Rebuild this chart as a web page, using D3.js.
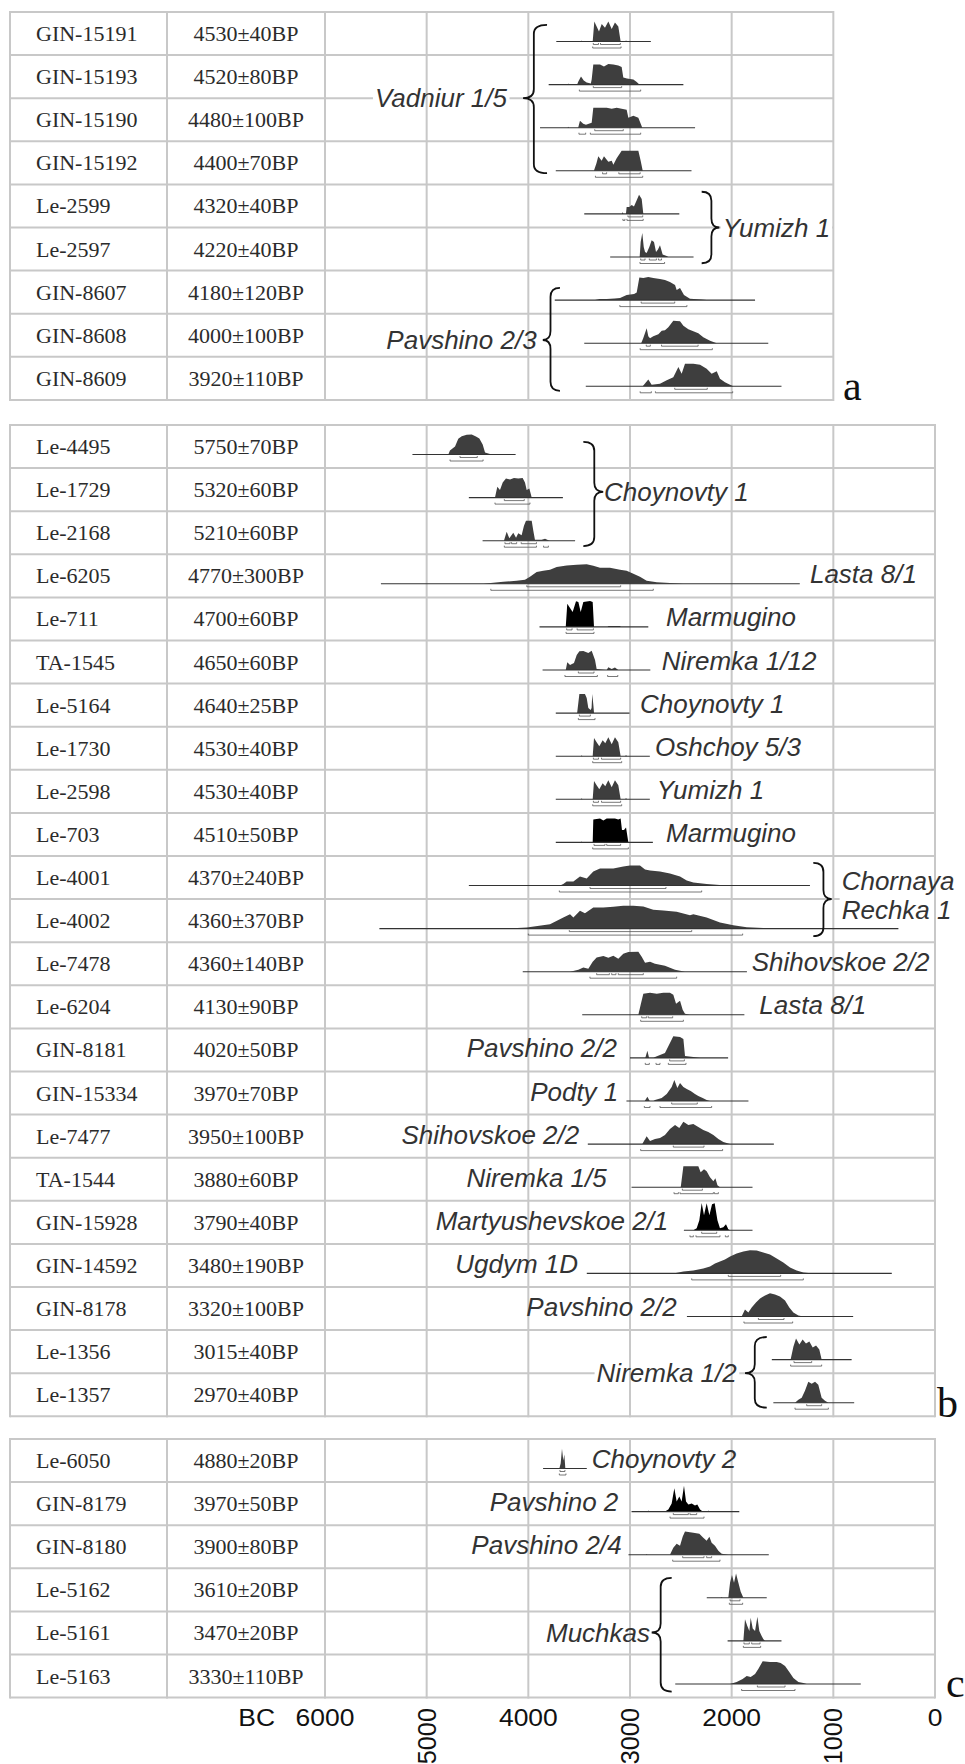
<!DOCTYPE html>
<html>
<head>
<meta charset="utf-8">
<script src="https://cdn.jsdelivr.net/npm/d3@7"></script>
<style>
body { margin: 0; background: #fff; }
svg { display: block; }
</style>
</head>
<body>
<svg width="965" height="1764"></svg>
<script>
// ---- data: lab codes, dates, calibrated distributions (year BC, relative probability) ----

// panel a
var codesA = ["GIN-15191","GIN-15193","GIN-15190","GIN-15192","Le-2599","Le-2597","GIN-8607","GIN-8608","GIN-8609"];
var datesA = ["4530±40BP","4520±80BP","4480±100BP","4400±70BP","4320±40BP","4220±40BP","4180±120BP","4000±100BP","3920±110BP"];
var spanA = [[3725,2795],[3800,2475],[3885,2360],[3730,2395],[3450,2515],[3195,2375],[3740,1770],[3450,1640],[3435,1510]];
var curvesA = [
  [[3485,0],[3478,4],[3471,0],[3367,0],[3351,80],[3328,60],[3305,40],[3278,70],[3246,55],[3213,80],[3180,50],[3148,76],[3115,60],[3092,0],[3046,0],[3039,5],[3032,0]],
  [[3614,0],[3607,4],[3600,0],[3520,0],[3508,12],[3482,32],[3455,16],[3426,8],[3385,4],[3377,20],[3361,80],[3295,80],[3256,72],[3213,82],[3164,80],[3115,76],[3082,70],[3066,28],[3030,24],[2967,20],[2934,10],[2908,0]],
  [[3614,0],[3607,4],[3600,0],[3510,0],[3492,28],[3460,16],[3433,12],[3377,20],[3361,80],[3295,80],[3229,80],[3180,76],[3131,80],[3082,76],[3033,72],[3016,40],[2967,48],[2918,40],[2879,0]],
  [[3355,0],[3330,30],[3312,58],[3279,40],[3256,58],[3213,36],[3180,40],[3164,24],[3131,50],[3082,80],[3033,80],[2918,80],[2895,40],[2875,0]],
  [[3079,0],[3072,8],[3065,0],[3040,0],[3033,28],[3007,28],[2983,36],[2961,30],[2934,55],[2911,77],[2885,60],[2869,0]],
  [[2905,0],[2895,60],[2879,96],[2865,40],[2852,20],[2836,16],[2810,40],[2787,67],[2764,60],[2744,20],[2725,30],[2705,47],[2679,10],[2639,4],[2623,0]],
  [[3344,0],[3300,4],[3229,4],[3150,6],[3098,8],[3033,20],[2960,24],[2934,30],[2908,90],[2869,88],[2820,92],[2771,88],[2705,84],[2656,80],[2607,72],[2557,60],[2541,40],[2508,48],[2469,20],[2410,5],[2295,2],[2246,0]],
  [[2890,0],[2870,20],[2836,60],[2820,28],[2803,20],[2771,28],[2721,36],[2688,50],[2656,52],[2623,64],[2574,90],[2508,88],[2475,70],[2426,56],[2377,48],[2328,40],[2279,24],[2213,10],[2147,0]],
  [[2875,0],[2820,27],[2787,6],[2705,10],[2639,24],[2574,36],[2524,77],[2492,50],[2459,90],[2377,90],[2311,86],[2246,70],[2197,50],[2147,60],[2115,30],[2066,16],[2016,6],[1984,0]]
];
var sig1A = [[[3361,3310],[3290,3095]],[[3361,3082]],[[3347,3066]],[[3270,3230],[3110,2900]],[[3020,2875]],[[2895,2852],[2810,2740],[2720,2690]],[[2890,2560]],[[2840,2800],[2690,2330]],[[2560,2240]]];
var sig2A = [[[3367,3088]],[[3498,2895]],[[3502,3436],[3390,2895]],[[3340,2875]],[[3070,3050],[3030,2870]],[[2902,2660]],[[3100,2440]],[[2900,2190]],[[2900,2790],[2750,1990]]];

// panel b
var codesB = ["Le-4495","Le-1729","Le-2168","Le-6205","Le-711","TA-1545","Le-5164","Le-1730","Le-2598","Le-703","Le-4001","Le-4002","Le-7478","Le-6204","GIN-8181","GIN-15334","Le-7477","TA-1544","GIN-15928","GIN-14592","GIN-8178","Le-1356","Le-1357"];
var datesB = ["5750±70BP","5320±60BP","5210±60BP","4770±300BP","4700±60BP","4650±60BP","4640±25BP","4530±40BP","4530±40BP","4510±50BP","4370±240BP","4360±370BP","4360±140BP","4130±90BP","4020±50BP","3970±70BP","3950±100BP","3880±60BP","3790±40BP","3480±190BP","3320±100BP","3015±40BP","2970±40BP"];
var spanB = [[5140,4125],[4585,3660],[4450,3540],[5450,1330],[3890,2820],[3860,2800],[3730,3005],[3730,2805],[3730,2805],[3730,2775],[4585,1230],[5465,360],[4055,1850],[3470,1875],[3000,2035],[3035,1835],[3415,1585],[2985,1795],[2470,1795],[3425,425],[2440,805],[1605,820],[1590,795]];
var oshchoy = [[3482,0],[3475,4],[3468,0],[3367,0],[3354,73],[3328,56],[3302,40],[3269,64],[3243,52],[3213,76],[3180,48],[3148,76],[3115,56],[3092,0],[3046,0],[3039,6],[3032,0]];
var curvesB = [
  [[4787,0],[4771,16],[4721,32],[4689,63],[4655,73],[4606,79],[4557,80],[4515,72],[4482,64],[4449,40],[4426,8],[4377,2],[4360,0]],
  [[4328,0],[4305,43],[4279,30],[4252,60],[4220,76],[4180,72],[4141,78],[4099,76],[4056,78],[4033,60],[4016,30],[3990,36],[3967,0]],
  [[4240,0],[4213,36],[4187,10],[4148,32],[4121,12],[4099,30],[4066,22],[4043,60],[4023,80],[3967,80],[3951,40],[3935,4],[3869,4],[3836,8],[3803,2],[3787,0]],
  [[4443,0],[4345,4],[4246,8],[4115,12],[4033,16],[3984,28],[3918,47],[3853,52],[3787,56],[3721,67],[3623,73],[3524,76],[3426,78],[3361,72],[3295,64],[3197,64],[3098,56],[3033,52],[2967,40],[2902,28],[2836,12],[2737,6],[2607,3],[2475,0]],
  [[3632,0],[3617,93],[3590,76],[3564,60],[3531,103],[3508,100],[3485,60],[3459,100],[3393,104],[3367,100],[3354,0],[3220,0],[3213,3],[3098,3],[3090,0]],
  [[3632,0],[3617,31],[3590,20],[3551,28],[3524,60],[3498,75],[3459,76],[3410,68],[3377,77],[3344,40],[3328,4],[3230,0],[3213,11],[3180,4],[3148,10],[3115,0]],
  [[3520,0],[3498,76],[3443,76],[3426,60],[3410,20],[3387,12],[3378,20],[3371,76],[3360,30],[3354,0]],
  oshchoy,
  oshchoy,
  [[3482,0],[3475,4],[3468,0],[3367,0],[3361,92],[3295,96],[3262,88],[3229,96],[3148,96],[3115,92],[3092,96],[3079,50],[3059,50],[3039,60],[3016,0]],
  [[3689,0],[3656,6],[3623,16],[3557,16],[3492,36],[3426,28],[3361,56],[3295,68],[3164,68],[3066,76],[3000,80],[2902,80],[2852,64],[2803,60],[2705,56],[2607,48],[2508,36],[2442,20],[2377,12],[2246,6],[2115,2],[2049,0]],
  [[4246,0],[4016,4],[3787,17],[3656,44],[3590,57],[3557,44],[3492,71],[3443,61],[3361,84],[3262,84],[3164,87],[3066,91],[2967,91],[2869,88],[2771,75],[2672,72],[2541,67],[2410,53],[2377,57],[2246,44],[2115,24],[1984,13],[1852,5],[1689,2],[1590,0]],
  [[3590,0],[3508,8],[3459,17],[3410,12],[3367,40],[3328,57],[3262,63],[3213,56],[3164,64],[3115,52],[3066,72],[3016,79],[2918,80],[2885,60],[2852,36],[2803,40],[2754,32],[2705,28],[2656,24],[2607,16],[2557,8],[2508,4],[2459,0]],
  [[2918,0],[2895,40],[2869,84],[2803,88],[2737,84],[2672,88],[2607,88],[2574,80],[2547,44],[2508,56],[2482,20],[2459,4],[2410,0]],
  [[2850,0],[2829,29],[2812,0],[2770,0],[2754,4],[2705,12],[2656,20],[2623,47],[2574,87],[2508,84],[2475,76],[2459,8],[2377,4],[2311,0]],
  [[2855,0],[2829,17],[2806,0],[2770,0],[2754,4],[2688,12],[2639,28],[2590,56],[2564,84],[2534,52],[2508,72],[2475,56],[2442,48],[2403,40],[2361,28],[2328,20],[2285,12],[2246,4],[2213,0]],
  [[2879,0],[2836,31],[2803,12],[2754,20],[2705,24],[2656,36],[2607,60],[2557,76],[2515,64],[2475,89],[2426,76],[2377,80],[2328,68],[2279,56],[2230,48],[2180,36],[2131,20],[2082,8],[2033,2],[2016,0]],
  [[2501,0],[2475,84],[2410,84],[2328,84],[2305,60],[2272,72],[2246,64],[2213,40],[2180,24],[2160,36],[2140,8],[2115,0]],
  [[2377,0],[2344,8],[2318,40],[2295,109],[2272,60],[2246,108],[2219,60],[2193,104],[2167,108],[2140,40],[2115,8],[2082,12],[2056,24],[2033,4],[2016,0]],
  [[2574,0],[2475,8],[2377,12],[2279,20],[2213,28],[2164,40],[2115,48],[2066,56],[2016,68],[1951,80],[1885,88],[1820,93],[1754,92],[1689,84],[1623,76],[1557,60],[1492,44],[1426,24],[1361,12],[1295,4],[1197,0]],
  [[1902,0],[1869,28],[1836,16],[1803,36],[1761,56],[1721,72],[1672,84],[1623,93],[1574,88],[1525,80],[1475,64],[1433,36],[1393,16],[1344,4],[1295,0]],
  [[1420,0],[1393,51],[1367,84],[1334,60],[1302,80],[1269,64],[1236,72],[1203,48],[1170,56],[1138,40],[1115,0]],
  [[1377,0],[1344,12],[1311,20],[1279,48],[1246,84],[1213,76],[1180,84],[1148,72],[1115,20],[1082,8],[1049,0]]
];
var sig1B = [[[4672,4502]],[[4236,4040]],[[4230,4180],[4165,4115],[4070,3920]],[[4015,3092]],[[3623,3570],[3520,3360]],[[3508,3354]],[[3498,3390]],[[3360,3310],[3280,3092]],[[3360,3310],[3280,3092]],[[3354,3246],[3229,3092]],[[3393,2646]],[[3597,2393]],[[3328,3203],[3180,3138],[3115,2869]],[[2885,2836],[2820,2580]],[[2610,2465]],[[2590,2338]],[[2574,2272]],[[2485,2288]],[[2295,2147]],[[2033,1518]],[[1737,1485]],[[1387,1213]],[[1262,1115]]];
var sig2B = [[[4770,4445]],[[4328,3984]],[[4236,3920],[3850,3803]],[[4369,2771]],[[3629,3354]],[[3640,3321],[3220,3120]],[[3508,3344]],[[3367,3082]],[[3367,3082]],[[3367,3016]],[[3695,2295]],[[4000,1892]],[[3394,2541]],[[2895,2475]],[[2850,2810],[2744,2705],[2623,2449]],[[2859,2803],[2705,2197]],[[2895,2089]],[[2567,2524],[2508,2180],[2170,2131]],[[2410,2377],[2351,2115],[2062,2033]],[[2393,1295]],[[1879,1400]],[[1420,1115]],[[1377,1049]]];

// panel c
var codesC = ["Le-6050","GIN-8179","GIN-8180","Le-5162","Le-5161","Le-5163"];
var datesC = ["4880±20BP","3970±50BP","3900±80BP","3610±20BP","3470±20BP","3330±110BP"];
var spanC = [[3855,3425],[2985,1925],[3015,1635],[2245,1655],[2040,1510],[2555,730]];
var curvesC = [
  [[3695,0],[3682,20],[3669,79],[3656,32],[3646,56],[3636,0]],
  [[2827,0],[2820,4],[2813,0],[2656,0],[2623,8],[2590,32],[2564,93],[2541,40],[2515,60],[2492,40],[2469,103],[2449,40],[2426,28],[2393,32],[2361,24],[2338,28],[2311,8],[2285,0],[2237,0],[2230,4],[2223,0]],
  [[2843,0],[2836,3],[2829,0],[2607,0],[2574,28],[2541,44],[2508,36],[2482,72],[2459,93],[2377,88],[2318,84],[2279,68],[2246,56],[2219,72],[2197,48],[2164,36],[2131,16],[2098,4],[2033,0]],
  [[2105,0],[2098,3],[2091,0],[2033,0],[2016,60],[1997,91],[1977,60],[1957,97],[1934,60],[1911,24],[1885,0]],
  [[1885,0],[1869,87],[1846,60],[1826,40],[1813,93],[1793,50],[1770,40],[1747,97],[1728,40],[1705,20],[1689,8],[1672,0]],
  [[2016,0],[1951,8],[1892,20],[1852,32],[1813,28],[1770,40],[1738,60],[1695,91],[1623,88],[1557,88],[1518,84],[1475,72],[1433,48],[1393,24],[1344,8],[1295,4],[1262,0]]
];
var sig1C = [[[3689,3640]],[[2574,2426],[2410,2344]],[[2482,2272],[2246,2197]],[[2016,1918]],[[1879,1826],[1803,1721]],[[1747,1475]]];
var sig2C = [[[3695,3630]],[[2606,2272]],[[2580,2115]],[[2023,1892]],[[1885,1715]],[[1902,1377]]];

// rows drawn in black
var blackA = [];
var blackB = [4, 9, 18];
var blackC = [1];

// axis
var tickYears = [6000, 5000, 4000, 3000, 2000, 1000, 0];
var uprightTicks = [5000, 3000, 1000];

// site labels: [row, text, year, anchor]
var sitesB = [[3,"Lasta 8/1",1230,"start"],[4,"Marmugino",2646,"start"],[5,"Niremka 1/12",2688,"start"],[6,"Choynovty 1",2902,"start"],
  [7,"Oshchoy 5/3",2754,"start"],[8,"Yumizh 1",2737,"start"],[9,"Marmugino",2646,"start"],[12,"Shihovskoe 2/2",1803,"start"],
  [13,"Lasta 8/1",1728,"start"],[14,"Pavshino 2/2",3128,"end"],[15,"Podty 1",3115,"end"],[16,"Shihovskoe 2/2",3499,"end"],
  [17,"Niremka 1/5",3229,"end"],[18,"Martyushevskoe 2/1",2623,"end"],[19,"Ugdym 1D",3511,"end"],[20,"Pavshino 2/2",2541,"end"]];
var sitesC = [[0,"Choynovty 2",3377,"start"],[1,"Pavshino 2",3115,"end"],[2,"Pavshino 2/4",3082,"end"]];

// braced groups (row units inside the panel)
var groups = [
  {panel:0, from:0.3,  tip:2.0,  to:3.74,  tipYr:4052, endYr:3816, labelYr:4210, anchor:"end",   text:["Vadniur 1/5"]},
  {panel:0, from:4.17, tip:5.0,  to:5.83,  tipYr:2121, endYr:2295, labelYr:2088, anchor:"start", text:["Yumizh 1"]},
  {panel:0, from:6.4,  tip:7.61, to:8.79,  tipYr:3858, endYr:3689, labelYr:3918, anchor:"end",   text:["Pavshino 2/3"]},
  {panel:1, from:0.39, tip:1.55, to:2.81,  tipYr:3263, endYr:3459, labelYr:3255, anchor:"start", text:["Choynovty 1"]},
  {panel:1, from:10.16,tip:11.0, to:11.86, tipYr:1016, endYr:1197, labelYr:918,  anchor:"start", text:["Chornaya","Rechka 1"]},
  {panel:1, from:21.16,tip:22.0, to:22.8,  tipYr:1869, endYr:1655, labelYr:1950, anchor:"end",   text:["Niremka 1/2"]},
  {panel:2, from:3.22, tip:4.49, to:5.86,  tipYr:2787, endYr:2590, labelYr:2803, anchor:"end",   text:["Muchkas"]}
];

// ---- drawing ----
var svg = d3.select("svg");
var x = d3.scaleLinear().domain([6000, 0]).range([325, 935]);
var h = d3.scaleLinear().domain([0, 100]).range([0, 25]);
var rowH = 43.1;
var serif = "'Liberation Serif','Times New Roman',serif";
var sans = "'Liberation Sans',Arial,sans-serif";
var gridCol = "#c8c8c8";
var labelSize = 26;

var panels = [
  {letter:"a", top:12,   right:834, codes:codesA, dates:datesA, spans:spanA, curves:curvesA, s1:sig1A, s2:sig2A, black:blackA, sites:[],     lx:843, ly:400},
  {letter:"b", top:425,  right:935, codes:codesB, dates:datesB, spans:spanB, curves:curvesB, s1:sig1B, s2:sig2B, black:blackB, sites:sitesB, lx:937, ly:1417},
  {letter:"c", top:1439, right:935, codes:codesC, dates:datesC, spans:spanC, curves:curvesC, s1:sig1C, s2:sig2C, black:blackC, sites:sitesC, lx:946, ly:1697}
];

var gH = svg.append("g"), gBg = svg.append("g"), gV = svg.append("g"),
    gText = svg.append("g"), gMarks = svg.append("g"), gBrace = svg.append("g");

function rowTop(p, i) { return p.top + i * rowH; }

panels.forEach(function(p) {
  var n = p.codes.length;
  var bottom = rowTop(p, n);

  // horizontal grid
  gH.selectAll(null).data(d3.range(n + 1)).join("line")
    .attr("x1", 10).attr("x2", p.right)
    .attr("y1", function(i) { return rowTop(p, i); })
    .attr("y2", function(i) { return rowTop(p, i); })
    .attr("stroke", gridCol).attr("stroke-width", 2);

  // vertical grid
  var vx = [10, 167].concat(tickYears.map(x).filter(function(v) { return v <= p.right + 1; }));
  gV.selectAll(null).data(vx).join("line")
    .attr("x1", function(d) { return d; }).attr("x2", function(d) { return d; })
    .attr("y1", p.top - 1).attr("y2", bottom + 1)
    .attr("stroke", gridCol).attr("stroke-width", 2);

  // table text
  gText.selectAll(null).data(p.codes).join("text")
    .attr("x", 36).attr("y", function(d, i) { return rowTop(p, i) + rowH / 2 + 7.5; })
    .attr("font-family", serif).attr("font-size", 22).attr("fill", "#2b2b2b")
    .text(function(d) { return d; });
  gText.selectAll(null).data(p.dates).join("text")
    .attr("x", 246).attr("y", function(d, i) { return rowTop(p, i) + rowH / 2 + 7.5; })
    .attr("text-anchor", "middle")
    .attr("font-family", serif).attr("font-size", 22).attr("fill", "#2b2b2b")
    .text(function(d) { return d; });

  // site labels
  gText.selectAll(null).data(p.sites).join("text")
    .attr("x", function(d) { return x(d[2]); })
    .attr("y", function(d) { return rowTop(p, d[0]) + rowH / 2 + 7.5; })
    .attr("text-anchor", function(d) { return d[3]; })
    .attr("font-family", sans).attr("font-style", "italic").attr("font-size", labelSize).attr("fill", "#333")
    .text(function(d) { return d[1]; });

  // panel letter
  gText.append("text").attr("x", p.lx).attr("y", p.ly)
    .attr("font-family", serif).attr("font-size", 42).attr("fill", "#111").text(p.letter);

  // distributions
  p.curves.forEach(function(c, i) {
    var base = rowTop(p, i) + 29.5;
    var g = gMarks.append("g");
    var area = d3.area()
      .x(function(d) { return x(d[0]); })
      .y0(base)
      .y1(function(d) { return base - h(d[1]); });
    g.append("path").datum(c).attr("d", area)
      .attr("fill", p.black.indexOf(i) >= 0 ? "#000" : "#3e3e3e");
    g.append("line")
      .attr("x1", x(p.spans[i][0])).attr("x2", x(p.spans[i][1]))
      .attr("y1", base).attr("y2", base)
      .attr("stroke", "#333").attr("stroke-width", 1.1);
    [[p.s1[i], 3], [p.s2[i], 6.5]].forEach(function(s) {
      s[0].forEach(function(r) {
        var yb = base + s[1];
        g.append("path")
          .attr("d", "M" + x(r[0]) + "," + (yb - 1.5) + "V" + yb + "H" + x(r[1]) + "V" + (yb - 1.5))
          .attr("fill", "none").attr("stroke", "#555").attr("stroke-width", 0.8);
      });
    });
  });
});

// braces with group labels
function bracePath(xt, xe, y1, yt, y2) {
  var xb = xt + (xe - xt) * 0.45, r = 9;
  return "M" + xe + "," + y1 +
    "Q" + xb + "," + y1 + " " + xb + "," + (y1 + r) +
    "L" + xb + "," + (yt - r) +
    "Q" + xb + "," + yt + " " + xt + "," + yt +
    "Q" + xb + "," + yt + " " + xb + "," + (yt + r) +
    "L" + xb + "," + (y2 - r) +
    "Q" + xb + "," + y2 + " " + xe + "," + y2;
}

groups.forEach(function(gr) {
  var p = panels[gr.panel];
  var y1 = p.top + gr.from * rowH, yt = p.top + gr.tip * rowH, y2 = p.top + gr.to * rowH;
  gBrace.append("path").attr("d", bracePath(x(gr.tipYr), x(gr.endYr), y1, yt, y2))
    .attr("fill", "none").attr("stroke", "#111").attr("stroke-width", 1.8);

  var t = gText.append("text")
    .attr("x", x(gr.labelYr))
    .attr("text-anchor", gr.anchor)
    .attr("font-family", sans).attr("font-style", "italic").attr("font-size", labelSize).attr("fill", "#333");
  if (gr.text.length === 1) {
    t.attr("y", yt + 9).text(gr.text[0]);
  } else {
    t.append("tspan").attr("x", x(gr.labelYr)).attr("y", yt - 9).text(gr.text[0]);
    t.append("tspan").attr("x", x(gr.labelYr)).attr("y", yt + 20).text(gr.text[1]);
  }
  var bb = t.node().getBBox();
  gBg.append("rect").attr("x", bb.x - 2).attr("y", bb.y + 2)
    .attr("width", bb.width + 4).attr("height", bb.height - 4).attr("fill", "#fff");
});

// axis (labels slightly widened like the source)
var gA = svg.append("g").attr("font-family", sans).attr("font-size", 23).attr("fill", "#111");
gA.selectAll(null).data(tickYears.filter(function(v) { return uprightTicks.indexOf(v) < 0; })).join("text")
  .attr("transform", function(d) { return "translate(" + x(d) + ",1726) scale(1.15,1)"; })
  .attr("text-anchor", "middle")
  .text(function(d) { return d; });
gA.selectAll(null).data(uprightTicks).join("text")
  .attr("transform", function(d) { return "translate(" + x(d) + ",1708) rotate(-90) scale(1.1,1.1)"; })
  .attr("text-anchor", "end").attr("dy", "0.35em")
  .text(function(d) { return d; });
gA.append("text")
  .attr("transform", "translate(" + (x(6000) - 50) + ",1726) scale(1.15,1)")
  .attr("text-anchor", "end").text("BC");
</script>
</body>
</html>
